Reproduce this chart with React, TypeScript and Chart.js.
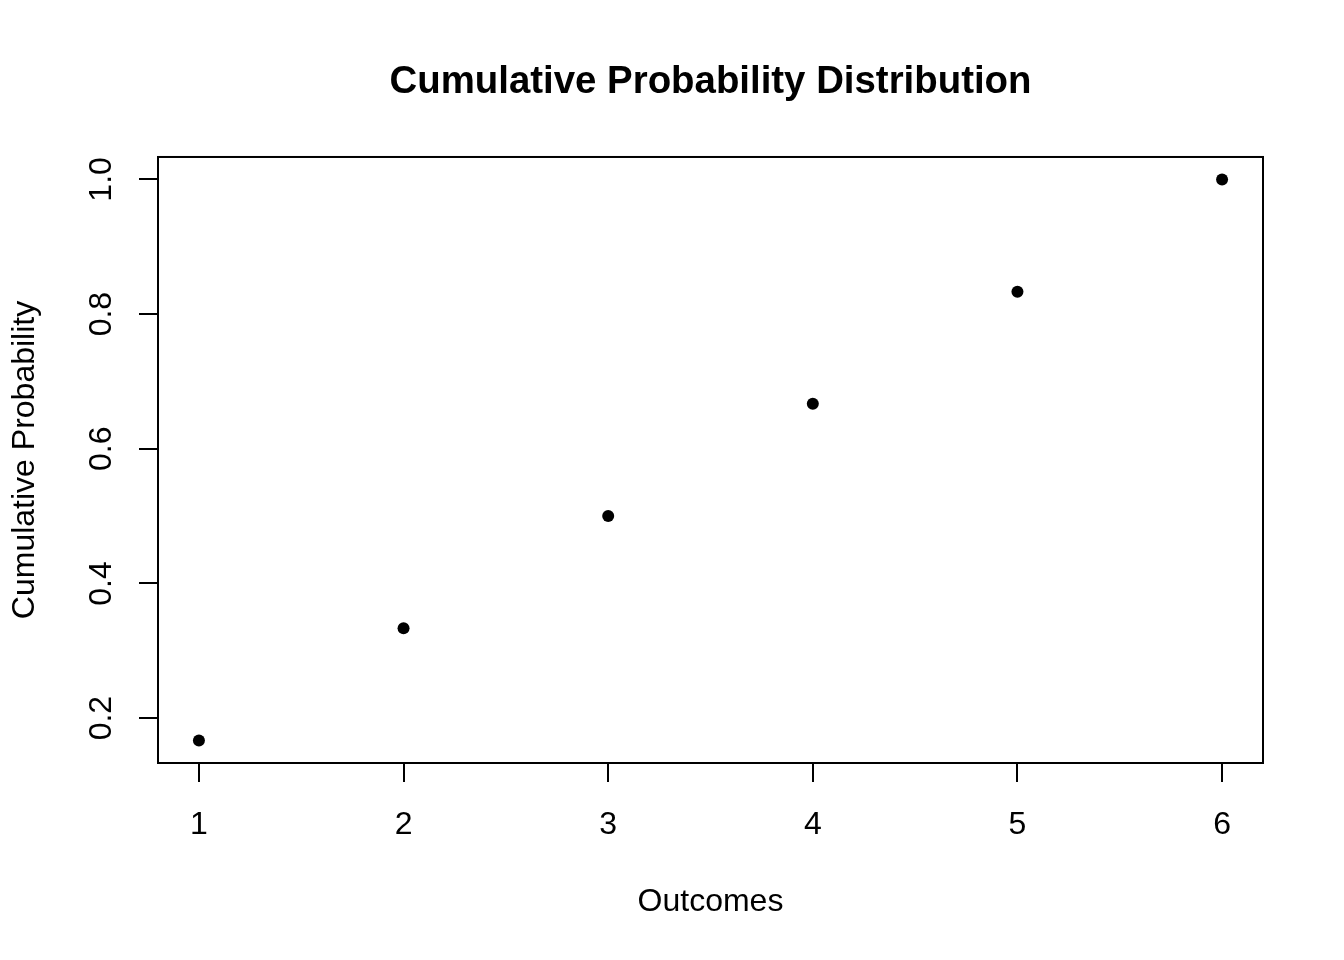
import React, { useEffect, useRef } from "react";
import { Chart, registerables } from "chart.js";

Chart.register(...registerables);

const outcomes = [1, 2, 3, 4, 5, 6];
const cumulativeProb = [0.1667, 0.3333, 0.5, 0.6667, 0.8333, 1.0];
const xTicks = [1, 2, 3, 4, 5, 6];
const yTicks = [0.2, 0.4, 0.6, 0.8, 1.0];

const FONT = "'Liberation Sans', Arial, Helvetica, sans-serif";

const boxPlugin = {
  id: "rbox",
  afterDraw(chart: any) {
    const { ctx, chartArea } = chart;
    ctx.save();
    ctx.strokeStyle = "#000";
    ctx.lineWidth = 2;
    ctx.strokeRect(chartArea.left, chartArea.top, chartArea.right - chartArea.left, chartArea.bottom - chartArea.top);
    ctx.restore();
  },
};

export default function App() {
  const ref = useRef<HTMLCanvasElement>(null);
  useEffect(() => {
    if (!ref.current) return;
    Chart.defaults.font.family = FONT;
    Chart.defaults.color = "#000";
    const chart = new Chart(ref.current, {
      type: "scatter",
      data: {
        datasets: [
          {
            data: outcomes.map((x, i) => ({ x, y: cumulativeProb[i] })),
            backgroundColor: "#000",
            borderColor: "#000",
            pointRadius: 6,
            pointBorderWidth: 0,
            pointHoverRadius: 6,
          },
        ],
      },
      options: {
        responsive: false,
        animation: false,
        events: [],
        layout: { padding: { left: 0, right: 81, top: 0, bottom: 0 } },
        plugins: {
          legend: { display: false },
          tooltip: { enabled: false },
          title: {
            display: true,
            text: "Cumulative Probability Distribution",
            fullSize: false,
            color: "#000",
            font: { size: 38.4, weight: "bold", family: FONT, lineHeight: 1.2 },
            padding: { top: 59, bottom: 51.9 },
          },
        },
        scales: {
          x: {
            type: "linear",
            min: 0.8,
            max: 6.2,
            afterBuildTicks: (s: any) => {
              s.ticks = xTicks.map((v) => ({ value: v }));
            },
            afterFit: (s: any) => {
              s.height = 197;
            },
            grid: { drawOnChartArea: false, drawTicks: true, tickLength: 19, color: "#000", lineWidth: 2 },
            border: { display: false },
            ticks: {
              font: { size: 32, family: FONT, lineHeight: 1.2 },
              color: "#000",
              padding: 24,
              maxRotation: 0,
              minRotation: 0,
              callback: (v: any) => String(v),
            },
            title: {
              display: true,
              text: "Outcomes",
              color: "#000",
              font: { size: 32, family: FONT, lineHeight: 1.2 },
              padding: { top: 0, bottom: 39 },
            },
          },
          y: {
            type: "linear",
            min: 0.13333,
            max: 1.03333,
            afterBuildTicks: (s: any) => {
              s.ticks = yTicks.map((v) => ({ value: v }));
            },
            afterFit: (s: any) => {
              s.width = 158;
            },
            grid: { drawOnChartArea: false, drawTicks: true, tickLength: 19, color: "#000", lineWidth: 2 },
            border: { display: false },
            ticks: {
              font: { size: 32, family: FONT, lineHeight: 1.2 },
              color: "#000",
              padding: 15,
              minRotation: 90,
              maxRotation: 90,
              crossAlign: "center",
              callback: (v: any) => Number(v).toFixed(1),
            },
            title: {
              display: true,
              text: "Cumulative Probability",
              color: "#000",
              font: { size: 32, family: FONT, lineHeight: 1.2 },
              padding: { top: 5.5, bottom: 0 },
            },
          },
        },
      },
      plugins: [boxPlugin],
    } as any);
    return () => chart.destroy();
  }, []);
  return (
    <div style={{ position: "fixed", left: 0, top: 0, width: 1344, height: 960, background: "#fff" }}>
      <canvas ref={ref} width={1344} height={960} style={{ display: "block", width: 1344, height: 960 }} />
    </div>
  );
}
